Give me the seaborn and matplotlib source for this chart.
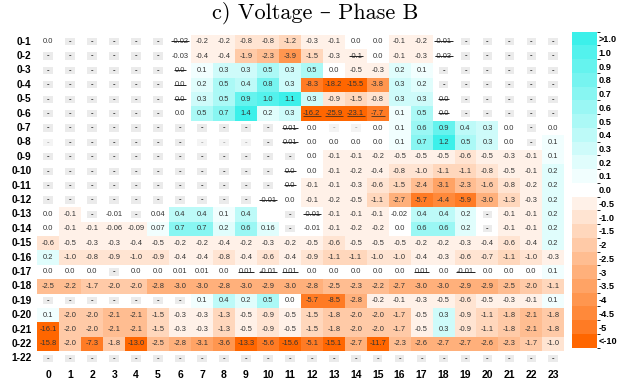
import numpy as np
import matplotlib
matplotlib.use("Agg")
import matplotlib.pyplot as plt
from matplotlib.colors import ListedColormap, BoundaryNorm, to_rgb
from matplotlib.patches import Rectangle
import seaborn as sns

row_labels = [f"0-{i}" for i in range(1, 23)] + ["1-22"]
hour_labels = [str(h) for h in range(24)]

# Cell readings per row, hours 0..23.
# "-" no reading, "." faint no reading, "" empty cell,
# suffix "*" = struck-through reading, "_" = underlined reading
r01 = ["0.0", "-", "-", "-", "-", "-", "-0.02*", "-0.2", "-0.2", "-0.8", "-0.8", "-1.2",
       "-0.3", "-0.1", "0.0", "0.0", "-0.1", "-0.2", "-0.01*", "-", "-", "-", "-", "-"]
r02 = ["-", "-", "-", "-", "-", "-", "-0.03", "-0.4", "-0.4", "-1.9", "-2.3", "-3.9",
       "-1.5", "-0.3", "-0.1*", "0.0", "-0.1", "-0.3", "-0.03*", "-", "-", "-", "-", "-"]
r03 = ["-", "-", "-", "-", "-", "-", "0.0*", "0.1", "0.3", "0.3", "0.5", "0.3",
       "0.5", "0.0", "-0.5", "-0.3", "0.2", "0.1", "-", "-", "-", "-", "-", "-"]
r04 = ["-", "-", "-", "-", "-", "-", "0.0*", "0.2", "0.5", "0.4", "0.8", "0.3",
       "-8.3", "-18.2", "-15.5", "-3.8", "0.3", "0.2", "-", "-", "-", "-", "-", "-"]
r05 = ["-", "-", "-", "-", "-", "-", "0.0*", "0.3", "0.5", "0.9", "1.0", "1.1",
       "0.3", "-0.9", "-1.5", "-0.8", "0.3", "0.3", "0.0*", "-", "-", "-", "-", "-"]
r06 = ["-", "-", "-", "-", "-", "-", "0.0", "0.5", "0.7", "1.4", "0.2", "0.3",
       "-16.2_", "-25.9_", "-23.1_", "-7.7_", "0.1", "0.5", "0.0*", "-", "-", "-", "-", "-"]
r07 = ["-", "-", "-", "-", "-", "-", "-", "-", "-", "-", "-", "0.01*",
       "0.0", ".", ".", "0.0", "0.1", "0.6", "0.9", "0.4", "0.3", "0.0", "-", "0.0"]
r08 = [".", "-", "-", "-", "-", "-", "-", ".", ".", ".", "-", "0.01*",
       "0.0", "0.0", "0.0", "0.0", "0.1", "0.7", "1.2", "0.5", "0.3", "0.0", "-", "0.1"]
r09 = ["-", "-", "-", "-", "-", "-", "-", "-", "-", "-", "-", "-",
       "0.0", "-0.1", "-0.1", "-0.2", "-0.5", "-0.5", "-0.5", "-0.6", "-0.5", "-0.3", "-0.1", "0.1"]
r10 = ["-", "-", "-", "-", "-", "-", "-", "-", "-", "-", "-", "0.0*",
       "0.0", "-0.1", "-0.2", "-0.4", "-0.8", "-1.0", "-1.1", "-1.1", "-0.8", "-0.5", "-0.1", "0.2"]
r11 = ["-", "-", "-", "-", "-", "-", "-", "-", "-", "-", "-", "0.0*",
       "-0.1", "-0.1", "-0.3", "-0.6", "-1.5", "-2.4", "-3.1", "-2.3", "-1.6", "-0.8", "-0.2", "0.2"]
r12 = ["-", "-", "-", "-", "-", "-", "-", "-", "-", "-", "-0.01*", "0.0",
       "-0.1", "-0.2", "-0.5", "-1.1", "-2.7", "-5.7", "-4.4", "-5.9", "-3.0", "-1.3", "-0.3", "0.2"]
r13 = ["0.0", "-0.1", "-", "-0.01", "-", "0.04", "0.4", "0.4", "0.1", "0.4", "", "-",
       "-0.01*", "-0.1", "-0.1", "-0.1", "-0.02", "0.4", "0.4", "0.2", "-", "-0.1", "-0.1", "0.2"]
r14 = ["0.0", "-0.1", "-0.1", "-0.06", "-0.09", "0.07", "0.7", "0.7", "0.2", "0.6", "0.16", "-",
       "-0.01", "-0.1", "-0.2", "-0.2", "0.0", "0.6", "0.6", "0.2", "-", "-0.1", "-0.1", "0.2"]
r15 = ["-0.6", "-0.5", "-0.3", "-0.3", "-0.4", "-0.5", "-0.2", "-0.2", "-0.4", "-0.2", "-0.3", "-0.2",
       "-0.5", "-0.6", "-0.5", "-0.5", "-0.5", "-0.2", "-0.2", "-0.3", "-0.4", "-0.6", "-0.4", "0.2"]
r16 = ["0.2", "-1.0", "-0.8", "-0.9", "-1.0", "-0.9", "-0.4", "-0.4", "-0.8", "-0.4", "-0.6", "-0.4",
       "-0.9", "-1.1", "-1.1", "-1.0", "-1.0", "-0.4", "-0.3", "-0.6", "-0.7", "-1.1", "-1.0", "-0.3"]
r17 = ["0.0", "0.0", "0.0", "-", "0.0", "0.0", "0.01", "0.01", "0.0", "0.01*", "-0.01*", "0.01*",
       "0.0", "0.0", "0.0", "0.0", "0.0", "0.01*", "0.0", "-0.01*", "0.0", "0.0", "0.0", "0.1"]
r18 = ["-2.5", "-2.2", "-1.7", "-2.0", "-2.0", "-2.8", "-3.0", "-3.0", "-2.8", "-3.0", "-2.9", "-3.0",
       "-2.8", "-2.5", "-2.3", "-2.2", "-2.7", "-3.0", "-3.0", "-2.9", "-2.9", "-2.5", "-2.0", "-1.1"]
r19 = ["-", "-", "-", "-", "-", "-", "-", "0.1", "0.4", "0.2", "0.5", "0.0",
       "-5.7", "-8.5", "-2.8", "-0.2", "-0.1", "-0.3", "-0.5", "-0.6", "-0.5", "-0.3", "-0.1", "0.1"]
r20 = ["0.1", "-2.0", "-2.0", "-2.1", "-2.1", "-1.5", "-0.3", "-0.3", "-1.3", "-0.5", "-0.9", "-0.5",
       "-1.5", "-1.8", "-2.0", "-2.0", "-1.7", "-0.5", "0.3", "-0.9", "-1.1", "-1.8", "-2.1", "-1.8"]
r21 = ["-16.1", "-2.0", "-2.0", "-2.1", "-2.1", "-1.5", "-0.3", "-0.3", "-1.3", "-0.5", "-0.9", "-0.5",
       "-1.5", "-1.8", "-2.0", "-2.0", "-1.7", "-0.5", "0.3", "-0.9", "-1.1", "-1.8", "-2.1", "-1.8"]
r22 = ["-15.8", "-2.0", "-7.3", "-1.8", "-13.0", "-2.5", "-2.8", "-3.1", "-3.6", "-13.3", "-5.6", "-15.6",
       "-5.1", "-15.1", "-2.7", "-11.7", "-2.3", "-2.6", "-2.7", "-2.7", "-2.6", "-2.3", "-1.7", "-1.0"]
r122 = ["-"] * 24

cells = [r01, r02, r03, r04, r05, r06, r07, r08, r09, r10, r11, r12,
         r13, r14, r15, r16, r17, r18, r19, r20, r21, r22, r122]

# Discrete colour classes (bottom to top of the colour bar)
legend_labels = ["<-10", "-5", "-4.5", "-4", "-3.5", "-3", "-2.5", "-2", "-1.5", "-1.0", "-0.5",
                 "0.0", "0.1", "0.2", "0.3", "0.4", "0.5", "0.6", "0.7", "0.8", "0.9", "1.0", ">1.0"]
bin_edges = [-100, -10, -4.5, -4, -3.5, -3, -2.5, -2, -1.5, -1, -0.5, -0.05,
             0.05, 0.15, 0.25, 0.35, 0.45, 0.55, 0.65, 0.75, 0.85, 0.95, 1.05, 100]

MISSING = ("-", ".", "")


def split_flag(s):
    if s and s[-1] in "*_":
        return s[:-1], s[-1]
    return s, ""


text = [[split_flag(s) for s in row] for row in cells]
vals = np.array([[np.nan if s in MISSING else float(s) for s, _ in row] for row in text])


def tint(color, t):
    c = np.array(to_rgb(color))
    return tuple(1 - t * (1 - c))


neg_cols = [tint("#ff6600", t) for t in [1.0] + list(np.linspace(0.86, 0.09, 10))]
pos_cols = [tint("#3cf0ea", t) for t in list(np.linspace(0.07, 0.88, 10)) + [1.0]]
cmap = ListedColormap(neg_cols + [(1, 1, 1)] + pos_cols)
norm = BoundaryNorm(bin_edges, cmap.N)
centers = [(a + b) / 2 for a, b in zip(bin_edges[:-1], bin_edges[1:])]

label_font = ["Liberation Sans Narrow", "Liberation Sans", "DejaVu Sans"]
cell_font = ["Liberation Sans", "DejaVu Sans"]

W, H = 619, 381
fig = plt.figure(figsize=(W / 100, H / 100), dpi=100)
ax = fig.add_axes([37.3 / W, (H - 365.5) / H, 527 / W, 331 / H])
cax = fig.add_axes([572 / W, (H - 347.7) / H, 25 / W, 316 / H])

sns.heatmap(vals, mask=np.isnan(vals), cmap=cmap, norm=norm, ax=ax, cbar_ax=cax,
            cbar_kws={"spacing": "uniform", "ticks": centers},
            xticklabels=hour_labels, yticklabels=row_labels, linewidths=0)
ax.set_facecolor("white")

ax.set_yticklabels(row_labels, rotation=0, fontweight="bold", fontsize=7.3, family=label_font)
ax.set_xticklabels(hour_labels, rotation=0, fontweight="bold", fontsize=7.5, family=label_font)
ax.tick_params(axis="both", length=0)
ax.tick_params(axis="y", pad=4)
ax.tick_params(axis="x", pad=3)

cax.set_yticks(centers)
cax.set_yticklabels(legend_labels, fontweight="bold", fontsize=6.6, family=label_font)
cax.tick_params(length=0, pad=1.2)

marked = []
for i, row in enumerate(text):
    for j, (s, flag) in enumerate(row):
        if s in ("-", "."):
            faint = s == "."
            ax.add_patch(Rectangle((j + 0.28, i + 0.25), 0.44, 0.5,
                                   facecolor="#f4f4f4" if faint else "#ebebeb",
                                   edgecolor="none", zorder=2))
            ax.text(j + 0.5, i + 0.5, "-", ha="center", va="center", fontsize=5.5,
                    fontweight="bold", color="#aaaaaa" if faint else "#222222",
                    family=cell_font, zorder=3)
        elif s:
            t = ax.text(j + 0.5, i + 0.5, s, ha="center", va="center", fontsize=5.4,
                        color="#333333", family=cell_font, zorder=3)
            if flag:
                marked.append((t, flag))

fig.text(315 / W, 1 - 13 / H, "c) Voltage \u2013 Phase B", ha="center", va="center",
         fontsize=16, family=["cmr10", "DejaVu Serif"])

# Strike-through / underline strokes sized to each rendered label
fig.canvas.draw()
renderer = fig.canvas.get_renderer()
inv = ax.transData.inverted()
for t, flag in marked:
    bb = t.get_window_extent(renderer)
    frac = 0.55 if flag == "*" else 0.12
    yd = bb.y0 + frac * bb.height
    (x0, y0), (x1, _) = inv.transform([[bb.x0 - 0.5, yd], [bb.x1 + 0.5, yd]])
    ax.plot([x0, x1], [y0, y0], color="#222222", lw=0.7 if flag == "*" else 0.5,
            zorder=4, solid_capstyle="butt")

fig.savefig("out.png", dpi=100)
